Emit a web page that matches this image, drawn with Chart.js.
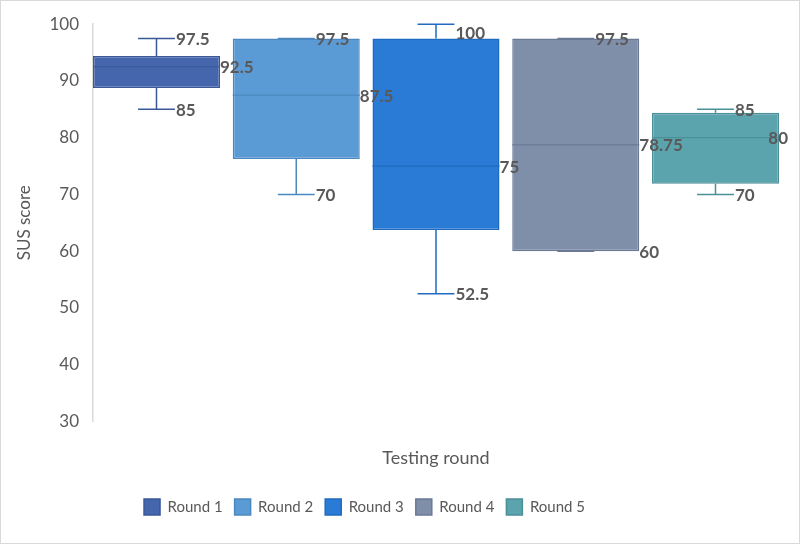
<!DOCTYPE html>
<html>
<head>
<meta charset="utf-8">
<script src="https://cdn.jsdelivr.net/npm/chart.js@4/dist/chart.umd.min.js"></script>
<style>
  html, body { margin: 0; padding: 0; background: #ffffff; }
  #wrap { width: 800px; height: 544px; position: relative; }
</style>
</head>
<body>
<div id="wrap"><canvas id="c" width="800" height="544"></canvas></div>
<script>
// ---- Data ----
const rounds = ['Round 1', 'Round 2', 'Round 3', 'Round 4', 'Round 5'];
const minVals = [85, 70, 52.5, 60, 70];
const q1Vals = [88.75, 76.25, 63.75, 60, 71.875];
const medianVals = [92.5, 87.5, 75, 78.75, 80];
const q3Vals = [94.375, 97.5, 97.5, 97.5, 84.375];
const maxVals = [97.5, 97.5, 100, 97.5, 85];
const yTicks = [30, 40, 50, 60, 70, 80, 90, 100];

const fillColors = ['#4565ad', '#5b9bd5', '#2a7bd5', '#7f8fa9', '#5ba3ad'];
const lineColors = ['#3a5898', '#4b88bf', '#1f6bbf', '#6a7a95', '#4b8f99'];

const FONT = "Lato, 'Open Sans', 'Liberation Sans', sans-serif";
const TEXT = '#595959';

const datasets = rounds.map((r, i) => ({
  label: r,
  data: [[q1Vals[i], q3Vals[i]]],
  backgroundColor: fillColors[i],
  borderColor: lineColors[i],
  borderWidth: 1.5,
  borderSkipped: false,
  categoryPercentage: 1.0186,
  barPercentage: 0.909
}));

const bgPlugin = {
  id: 'bg',
  afterLayout(chart) {
    // Excel places the legend slightly left of the canvas centre
    const lg = chart.legend;
    if (lg && !lg._shifted) { lg.left -= 30; lg.right -= 30; lg._shifted = true; }
  },
  beforeDraw(chart) {
    const ctx = chart.ctx;
    ctx.save();
    ctx.fillStyle = '#ffffff';
    ctx.fillRect(0, 0, chart.width, chart.height);
    ctx.strokeStyle = '#d9d9d9';
    ctx.lineWidth = 1;
    ctx.strokeRect(0.5, 0.5, chart.width - 1, chart.height - 1);
    ctx.restore();
  }
};

const boxPlugin = {
  id: 'boxparts',
  afterDatasetsDraw(chart) {
    const ctx = chart.ctx;
    const y = chart.scales.y;
    const area = chart.chartArea;
    ctx.save();
    rounds.forEach((r, i) => {
      const meta = chart.getDatasetMeta(i);
      if (meta.hidden) return;
      const bar = meta.data[0];
      const cx = bar.x, w = bar.width;
      const left = cx - w / 2, right = cx + w / 2;
      const capHalf = w * 0.145;
      ctx.strokeStyle = lineColors[i];
      // median
      const ym = y.getPixelForValue(medianVals[i]);
      ctx.lineWidth = 1.2;
      ctx.beginPath(); ctx.moveTo(left, ym); ctx.lineTo(right, ym); ctx.stroke();
      ctx.lineWidth = 1.5;
      // whiskers
      const yq3 = y.getPixelForValue(q3Vals[i]);
      const yq1 = y.getPixelForValue(q1Vals[i]);
      const ymax = y.getPixelForValue(maxVals[i]);
      const ymin = y.getPixelForValue(minVals[i]);
      ctx.beginPath();
      ctx.moveTo(cx, yq3); ctx.lineTo(cx, ymax);
      ctx.moveTo(cx - capHalf, ymax); ctx.lineTo(cx + capHalf, ymax);
      ctx.moveTo(cx, yq1); ctx.lineTo(cx, ymin);
      ctx.moveTo(cx - capHalf, ymin); ctx.lineTo(cx + capHalf, ymin);
      ctx.stroke();
      // labels
      ctx.font = 'bold 17px ' + FONT;
      ctx.fillStyle = TEXT;
      ctx.textBaseline = 'middle';
      ctx.textAlign = 'left';
      const put = (txt, x, yy) => {
        const tw = ctx.measureText(txt).width;
        const xx = Math.min(x, chart.width - 12 - tw);
        const y2 = Math.max(yy + 1, area.top + 9);
        ctx.fillText(txt, xx, y2);
      };
      put(String(maxVals[i]), cx + capHalf + 1, ymax);
      put(String(medianVals[i]), right, ym);
      const minX = (minVals[i] === q1Vals[i]) ? right : cx + capHalf + 1;
      put(String(minVals[i]), minX, ymin);
    });
    ctx.restore();
  }
};

new Chart(document.getElementById('c'), {
  type: 'bar',
  data: { labels: [''], datasets },
  options: {
    responsive: false,
    animation: false,
    devicePixelRatio: 1,
    layout: { padding: { left: 10, right: 21, top: 24, bottom: 19 } },
    plugins: {
      legend: {
        position: 'bottom',
        labels: {
          font: { family: FONT, size: 15 },
          color: TEXT,
          boxWidth: 16,
          boxHeight: 16,
          padding: 12
        }
      },
      tooltip: { enabled: false },
      title: { display: false }
    },
    scales: {
      x: {
        grid: { display: false, drawTicks: false },
        border: { display: false },
        ticks: { display: false },
        title: {
          display: true,
          text: 'Testing round',
          font: { family: FONT, size: 18 },
          color: TEXT,
          padding: { top: 26, bottom: 18 }
        }
      },
      y: {
        min: 30,
        max: 100,
        afterBuildTicks(scale) { scale.ticks = yTicks.map(v => ({ value: v })); },
        afterFit(scale) { scale.width = 83; },
        grid: { display: false, drawTicks: false },
        border: { display: true, color: '#d9d9d9', width: 1.5 },
        ticks: {
          font: { family: FONT, size: 17 },
          color: TEXT,
          padding: 14
        },
        title: {
          display: true,
          text: 'SUS score',
          font: { family: FONT, size: 17 },
          color: TEXT,
          padding: { top: 4, bottom: 0 }
        }
      }
    }
  },
  plugins: [bgPlugin, boxPlugin]
});
</script>
</body>
</html>
